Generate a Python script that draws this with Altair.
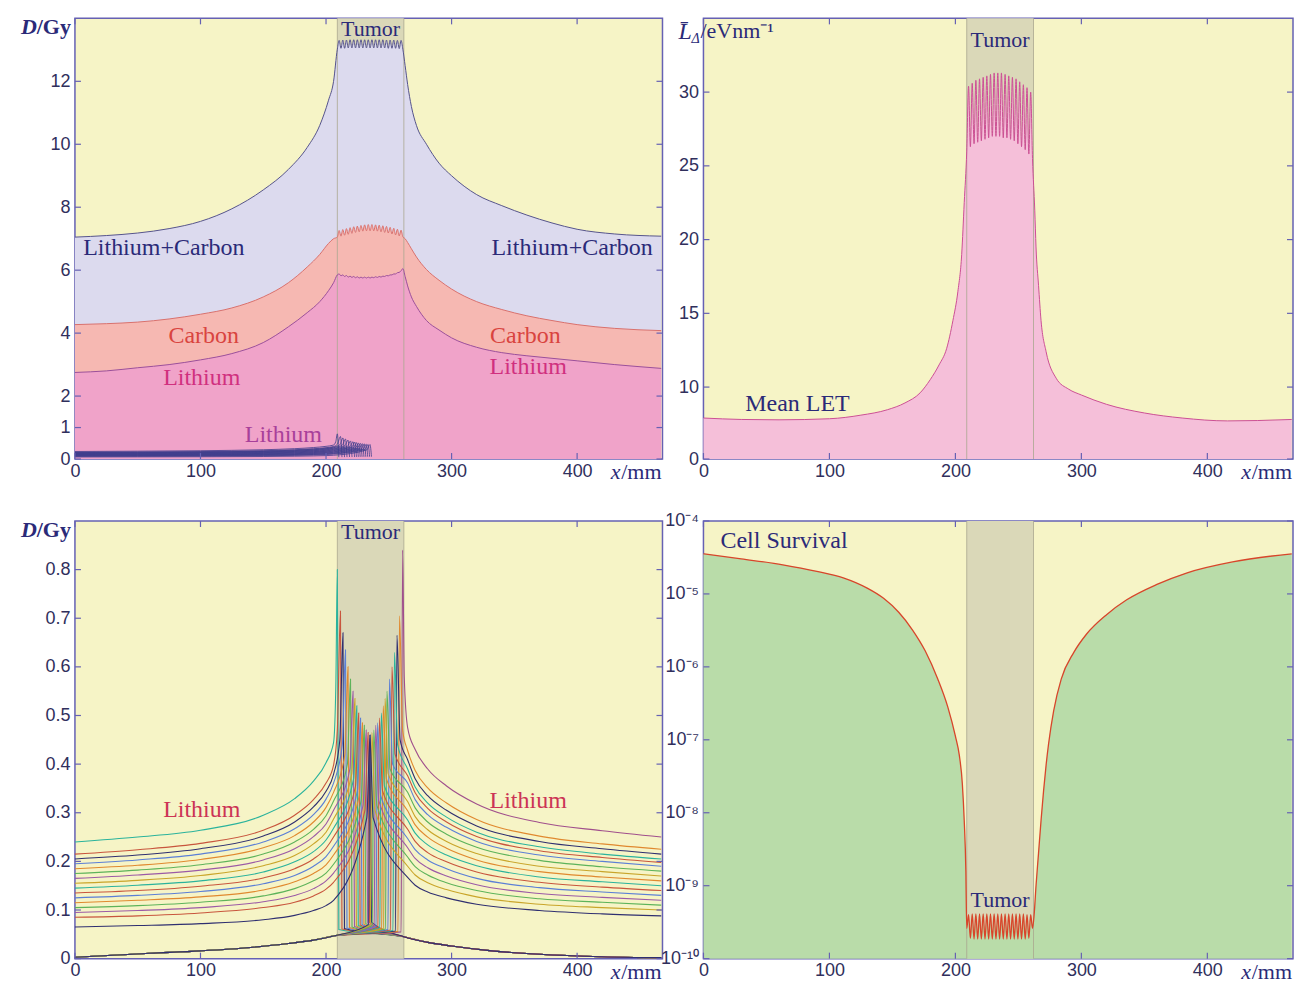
import altair as alt
import pandas as pd

# ------------------------------------------------------------------ data
X_MAX = 468                      # depth axis, mm
X_TICKS = [0, 100, 200, 300, 400]
TUMOR_EDGES = [209, 262]
TUMOR_MID = 235.5

# sample positions across the tumour (spread-out peak ripple)
TUMOR_X = [209.0, 210.45, 211.9, 213.35, 214.8, 216.25, 217.7, 219.15, 220.6, 222.05,
           223.5, 224.95, 226.4, 227.85, 229.3, 230.75, 232.2, 233.65, 235.1, 236.55,
           238.0, 239.45, 240.9, 242.35, 243.8, 245.25, 246.7, 248.15, 249.6, 251.05,
           252.5, 253.95, 255.4, 256.85, 258.3, 259.75, 261.2]

# (a) dose of lithium, carbon and both, Gy
DOSE_LEFT_X = [0, 25, 50, 75, 100, 125, 150, 170, 185, 195, 202, 206]
DOSE_RIGHT_X = [263, 265, 268, 272, 280, 290, 300, 320, 340, 360, 380, 400, 430, 467]
SUM_LEFT = [7.05, 7.10, 7.18, 7.32, 7.55, 7.95, 8.55, 9.20, 9.90, 10.60, 11.40, 12.00]
SUM_TUMOR = [13.02, 13.30, 13.05, 13.31, 13.05, 13.31, 13.06, 13.32, 13.06, 13.32,
             13.06, 13.32, 13.06, 13.32, 13.06, 13.32, 13.06, 13.32, 13.06, 13.32,
             13.06, 13.32, 13.06, 13.32, 13.06, 13.32, 13.06, 13.31, 13.05, 13.31,
             13.05, 13.31, 13.05, 13.30, 13.04, 13.30, 13.02]
SUM_RIGHT = [12.5, 11.9, 11.2, 10.6, 10.0, 9.4, 9.0, 8.4, 8.05, 7.75, 7.5, 7.3, 7.15, 7.08]
CARBON_LEFT = [4.27, 4.30, 4.35, 4.45, 4.60, 4.80, 5.15, 5.60, 6.10, 6.50, 6.85, 7.00]
CARBON_TUMOR = [7.05, 7.26, 7.08, 7.29, 7.11, 7.32, 7.14, 7.35, 7.17, 7.38,
                7.20, 7.40, 7.22, 7.42, 7.24, 7.44, 7.25, 7.45, 7.25, 7.45,
                7.25, 7.44, 7.24, 7.43, 7.22, 7.41, 7.20, 7.39, 7.18, 7.36,
                7.15, 7.33, 7.12, 7.30, 7.09, 7.27, 7.06]
CARBON_RIGHT = [7.0, 6.88, 6.68, 6.42, 6.02, 5.68, 5.4, 5.0, 4.75, 4.55, 4.4, 4.27, 4.15, 4.08]
LITHIUM_LEFT = [2.75, 2.80, 2.90, 3.00, 3.15, 3.35, 3.70, 4.20, 4.65, 5.00, 5.35, 5.60]
LITHIUM_TUMOR = [5.85, 5.88, 5.82, 5.85, 5.80, 5.83, 5.78, 5.81, 5.77, 5.80,
                 5.76, 5.79, 5.75, 5.78, 5.75, 5.78, 5.75, 5.78, 5.75, 5.78,
                 5.76, 5.79, 5.77, 5.80, 5.78, 5.81, 5.80, 5.83, 5.82, 5.85,
                 5.85, 5.88, 5.88, 5.92, 5.93, 5.98, 6.05]
LITHIUM_RIGHT = [5.8, 5.5, 5.15, 4.85, 4.4, 4.1, 3.85, 3.55, 3.38, 3.28, 3.2, 3.12, 3.0, 2.88]

# (b) dose-mean LET, eV/nm
LET_LEFT_X = [0, 30, 60, 100, 125, 146, 160, 172, 180, 187, 193, 198, 202, 205, 207]
LET_LEFT = [5.7, 5.5, 5.45, 5.6, 6.1, 6.85, 7.8, 9.2, 10.5, 11.5, 12.6, 14.5, 16.5, 19.0, 22.5]
LET_TUMOR = [26.0, 30.4, 26.3, 30.6, 26.5, 30.8, 26.6, 30.9, 26.7, 31.0,
             26.8, 31.1, 26.9, 31.2, 27.0, 31.3, 27.0, 31.3, 27.0, 31.3,
             26.9, 31.2, 26.9, 31.1, 26.8, 31.0, 26.7, 30.9, 26.5, 30.7,
             26.3, 30.5, 26.1, 30.3, 25.8, 30.0, 25.5]
LET_RIGHT_X = [263, 264, 266, 268, 272, 280, 290, 300, 320, 350, 380, 416, 440, 467]
LET_RIGHT = [22.0, 19.5, 16.9, 14.5, 12.4, 10.6, 9.7, 8.9, 7.6, 6.4, 5.7, 5.3, 5.35, 5.5]

# (d) cell survival
SURV_LEFT_X = [0, 30, 63, 90, 111, 130, 143, 155, 166, 176, 186, 194, 200, 203, 205.5, 207, 208.3]
SURV_LEFT = [3.55e-5, 3.02e-5, 2.51e-5, 2.04e-5, 1.66e-5, 1.2e-5, 8.7e-6, 5.6e-6, 3.2e-6,
             1.66e-6, 6.8e-7, 2.8e-7, 1.12e-7, 6.3e-8, 2.5e-8, 7.9e-9, 1.6e-9]
SURV_TUMOR = [2.6e-10, 4.0e-10, 1.9e-10, 4.1e-10, 1.85e-10, 4.1e-10, 1.85e-10, 4.1e-10, 1.85e-10, 4.1e-10,
              1.85e-10, 4.1e-10, 1.85e-10, 4.1e-10, 1.85e-10, 4.1e-10, 1.85e-10, 4.1e-10, 1.85e-10, 4.1e-10,
              1.85e-10, 4.1e-10, 1.85e-10, 4.1e-10, 1.85e-10, 4.1e-10, 1.85e-10, 4.1e-10, 1.85e-10, 4.1e-10,
              1.85e-10, 4.1e-10, 1.85e-10, 4.0e-10, 1.9e-10, 4.0e-10, 2.6e-10]
SURV_RIGHT_X = [262.5, 264, 266, 268, 270, 272, 274, 278, 284, 294, 304, 320, 336, 360, 384, 420, 467]
SURV_RIGHT = [4.0e-10, 1.0e-9, 2.8e-9, 7.9e-9, 2.0e-8, 4.5e-8, 8.9e-8, 2.5e-7, 6.8e-7,
              1.58e-6, 2.8e-6, 5.2e-6, 8.3e-6, 1.35e-5, 1.95e-5, 2.75e-5, 3.55e-5]

# (c) single lithium pencil beams, Gy -- entering from the left ...
L_ENTRY_X = [0, 50, 100, 150, 175, 190, 200, 206]
L_ENTRY = [
    [0.240, 0.250, 0.264, 0.295, 0.329, 0.365, 0.403, 0.444],
    [0.215, 0.224, 0.237, 0.264, 0.295, 0.327, 0.361, 0.398],
    [0.205, 0.213, 0.226, 0.252, 0.281, 0.312, 0.344, 0.379],
    [0.195, 0.203, 0.215, 0.240, 0.267, 0.296, 0.328, 0.361],
    [0.185, 0.192, 0.204, 0.228, 0.253, 0.281, 0.311, 0.342],
    [0.175, 0.182, 0.193, 0.215, 0.240, 0.266, 0.294, 0.324],
    [0.165, 0.172, 0.182, 0.203, 0.226, 0.251, 0.277, 0.305],
    [0.155, 0.161, 0.171, 0.191, 0.212, 0.236, 0.260, 0.287],
    [0.145, 0.151, 0.160, 0.178, 0.199, 0.220, 0.244, 0.268],
    [0.135, 0.140, 0.149, 0.166, 0.185, 0.205, 0.227, 0.250],
    [0.125, 0.130, 0.138, 0.154, 0.171, 0.190, 0.210, 0.231],
    [0.115, 0.120, 0.127, 0.141, 0.158, 0.175, 0.193, 0.213],
    [0.105, 0.109, 0.116, 0.129, 0.144, 0.160, 0.176, 0.194],
    [0.095, 0.099, 0.105, 0.117, 0.130, 0.144, 0.160, 0.176],
    [0.085, 0.088, 0.094, 0.105, 0.116, 0.129, 0.143, 0.157],
    [0.065, 0.068, 0.072, 0.080, 0.089, 0.099, 0.109, 0.120],
]
L_PRE_X = [207.8, 209.0, 211.0, 213.0, 215.0, 217.0, 219.0, 220.5,
           222.0, 223.5, 225.0, 226.5, 228.0, 229.5, 231.0, 232.5]
L_PRE = [0.56, 0.47, 0.45, 0.44, 0.42, 0.40, 0.39, 0.38,
         0.37, 0.355, 0.345, 0.335, 0.325, 0.315, 0.305, 0.29]
L_PEAK_X = [209.0, 211.5, 213.5, 215.5, 217.5, 219.5, 221.5, 223.0,
            224.5, 226.0, 227.5, 229.0, 230.5, 232.0, 233.5, 235.0]
L_PEAK = [0.80, 0.715, 0.67, 0.635, 0.60, 0.575, 0.55, 0.535,
          0.52, 0.505, 0.495, 0.485, 0.48, 0.47, 0.465, 0.46]
L_DROP_X = [210.2, 212.7, 214.7, 216.7, 218.7, 220.7, 222.7, 224.2,
            225.7, 227.2, 228.7, 230.2, 231.7, 233.2, 234.7, 236.2]
L_DROP = [0.060, 0.061, 0.062, 0.063, 0.064, 0.065, 0.066, 0.067,
          0.068, 0.069, 0.070, 0.071, 0.072, 0.073, 0.074, 0.075]
L_TAIL_X = [262, 280, 300, 332, 370, 420, 467]
L_TAIL = [0.045, 0.034, 0.026, 0.016, 0.009, 0.004, 0.002]

# ... and entering from the right
R_ENTRY_X = [467, 420, 370, 320, 296, 281, 271, 265]
R_ENTRY = [
    [0.250, 0.263, 0.280, 0.318, 0.355, 0.390, 0.430, 0.475],
    [0.225, 0.236, 0.252, 0.286, 0.320, 0.351, 0.387, 0.428],
    [0.215, 0.226, 0.241, 0.273, 0.305, 0.335, 0.370, 0.409],
    [0.205, 0.215, 0.230, 0.260, 0.291, 0.320, 0.353, 0.390],
    [0.198, 0.208, 0.222, 0.251, 0.281, 0.309, 0.341, 0.376],
    [0.190, 0.200, 0.213, 0.241, 0.270, 0.296, 0.327, 0.361],
    [0.180, 0.189, 0.202, 0.229, 0.256, 0.281, 0.310, 0.342],
    [0.170, 0.179, 0.190, 0.216, 0.241, 0.265, 0.292, 0.323],
    [0.160, 0.168, 0.179, 0.203, 0.227, 0.250, 0.275, 0.304],
    [0.150, 0.158, 0.168, 0.191, 0.213, 0.234, 0.258, 0.285],
    [0.140, 0.147, 0.157, 0.178, 0.199, 0.218, 0.241, 0.266],
    [0.130, 0.137, 0.146, 0.165, 0.185, 0.203, 0.224, 0.247],
    [0.120, 0.126, 0.134, 0.152, 0.170, 0.187, 0.206, 0.228],
    [0.110, 0.116, 0.123, 0.140, 0.156, 0.172, 0.189, 0.209],
    [0.100, 0.105, 0.112, 0.127, 0.142, 0.156, 0.172, 0.190],
    [0.088, 0.092, 0.099, 0.112, 0.125, 0.137, 0.151, 0.167],
]
R_PRE_X = [262.3, 261.0, 259.0, 257.0, 255.0, 253.0, 251.0, 249.5,
           248.0, 246.5, 245.0, 243.5, 242.0, 240.5, 239.0, 237.5]
R_PRE = [0.58, 0.47, 0.45, 0.44, 0.42, 0.40, 0.39, 0.38,
         0.37, 0.355, 0.345, 0.335, 0.325, 0.315, 0.305, 0.29]
R_PEAK_X = [261.0, 258.5, 256.5, 254.5, 252.5, 250.5, 248.5, 247.0,
            245.5, 244.0, 242.5, 241.0, 239.5, 238.0, 236.5, 235.0]
R_PEAK = [0.84, 0.705, 0.665, 0.63, 0.60, 0.575, 0.55, 0.535,
          0.52, 0.505, 0.495, 0.485, 0.48, 0.47, 0.465, 0.46]
R_DROP_X = [259.8, 257.3, 255.3, 253.3, 251.3, 249.3, 247.3, 245.8,
            244.3, 242.8, 241.3, 239.8, 238.3, 236.8, 235.3, 233.8]
R_DROP = [0.055, 0.056, 0.057, 0.058, 0.059, 0.060, 0.061, 0.062,
          0.063, 0.064, 0.065, 0.066, 0.067, 0.068, 0.069, 0.070]
R_TAIL_X = [207, 190, 170, 140, 100, 60, 30, 0]
R_TAIL = [0.047, 0.038, 0.031, 0.023, 0.016, 0.011, 0.007, 0.003]

# annotation anchors (data coordinates)
A_TEXT = ["Lithium+Carbon", "Lithium+Carbon", "Carbon", "Carbon", "Lithium", "Lithium", "Lithium"]
A_X = [70.8, 396.0, 102.6, 358.8, 101.0, 361.0, 166.0]
A_Y = [6.69, 6.69, 3.92, 3.92, 2.58, 2.93, 0.76]
A_TUMOR_Y = 13.66
B_TEXT, B_X, B_Y = ["Mean LET"], [74.6], [7.6]
B_TUMOR_Y = 33.5
C_TEXT, C_X, C_Y = ["Lithium", "Lithium"], [101.0, 361.0], [0.305, 0.325]
C_TUMOR_Y = 0.877
D_TEXT, D_X, D_Y = ["Cell Survival"], [13.5], [5.3e-5]
D_TUMOR_Y = 6.3e-10

A_YTICKS = [0, 1, 2, 4, 6, 8, 10, 12]
B_YTICKS = [0, 10, 15, 20, 25, 30]
C_YTICKS = [0, 0.1, 0.2, 0.3, 0.4, 0.5, 0.6, 0.7, 0.8]
D_YTICKS = [1e-10, 1e-9, 1e-8, 1e-7, 1e-6, 1e-5, 1e-4]

# ------------------------------------------------------------------ style
SERIF = "Liberation Serif"
SANS = "Liberation Sans"
FRAME = "#6661b3"
INK = "#2b2a78"
LABEL_INK = "#302f5c"
BG = "#f6f4c6"
BAND = "#dad8b8"
W_L, W_R, H_T, H_B = 588, 590, 441, 438
TICK = 6

L_COLORS = ["#2bb39c", "#c8553d", "#2f2f70", "#5b7fd6", "#e0892f", "#5db35a", "#9b5aa6", "#c9a52a",
            "#2bb39c", "#c8553d", "#5b7fd6", "#e0892f", "#5db35a", "#9b5aa6", "#c8553d", "#2f2f70"]
R_COLORS = ["#a04f8c", "#e0892f", "#2f2f70", "#2bb39c", "#c8553d", "#5b7fd6", "#5db35a", "#c9a52a",
            "#e0892f", "#2bb39c", "#c8553d", "#5b7fd6", "#9b5aa6", "#5db35a", "#c9a52a", "#2f2f70"]


def xaxis():
    return alt.Axis(values=X_TICKS, title=None, ticks=False, domain=False, grid=False,
                    labelFont=SANS, labelFontSize=18, labelColor=LABEL_INK,
                    labelPadding=3, labelFlush=False, labelOverlap=False)


def yaxis(values, expr=None):
    kw = dict(values=values, title=None, ticks=False, domain=False, grid=False,
              labelFont=SANS, labelFontSize=18, labelColor=LABEL_INK,
              labelPadding=5, labelFlush=False, labelOverlap=False)
    if expr:
        kw["labelExpr"] = expr
    return alt.Axis(**kw)


class Frame:
    """Shared scales and axes of one panel, handed to every layer."""

    def __init__(self, ydomain, yticks, w, h, ytype="linear", yrange=None, expr=None):
        self.xs = alt.Scale(domain=[0, X_MAX], nice=False, zero=False)
        ykw = dict(type=ytype, domain=ydomain, nice=False)
        if ytype == "linear":
            ykw["zero"] = False
        if yrange is not None:
            ykw["range"] = yrange
        self.ys = alt.Scale(**ykw)
        self.xa = xaxis()
        self.ya = yaxis(yticks, expr)
        self.yticks = yticks
        self.w, self.h = w, h

    def X(self, f):
        return alt.X(f, scale=self.xs, axis=self.xa)

    def Y(self, f):
        return alt.Y(f, scale=self.ys, axis=self.ya)


def band(fr, lo, hi):
    df = pd.DataFrame({"x0": [TUMOR_EDGES[0]], "x1": [TUMOR_EDGES[1]], "y0": [lo], "y1": [hi]})
    return alt.Chart(df).mark_rect(color=BAND).encode(
        x=fr.X("x0:Q"), x2="x1", y=fr.Y("y0:Q"), y2="y1")


def edges(fr):
    df = pd.DataFrame({"x": TUMOR_EDGES})
    return alt.Chart(df).mark_rule(color="#a9a78f", strokeWidth=0.8).encode(x=fr.X("x:Q"))


def area(fr, df, field, fill, base):
    return alt.Chart(df).mark_area(color=fill, interpolate="monotone").encode(
        x=fr.X("x:Q"), y=fr.Y(f"{field}:Q"), y2=alt.datum(base))


def line(fr, df, field, stroke, width=1.0):
    return alt.Chart(df).mark_line(color=stroke, strokeWidth=width, interpolate="monotone").encode(
        x=fr.X("x:Q"), y=fr.Y(f"{field}:Q"))


def frame_ticks(fr):
    xdf = pd.DataFrame({"v": X_TICKS})
    ydf = pd.DataFrame({"v": fr.yticks})
    st = dict(color=FRAME, strokeWidth=1.2)
    w, h = fr.w, fr.h
    return [
        alt.Chart(xdf).mark_rule(**st).encode(x=fr.X("v:Q"), y=alt.value(0), y2=alt.value(TICK)),
        alt.Chart(xdf).mark_rule(**st).encode(x=fr.X("v:Q"), y=alt.value(h), y2=alt.value(h - TICK)),
        alt.Chart(ydf).mark_rule(**st).encode(y=fr.Y("v:Q"), x=alt.value(0), x2=alt.value(TICK)),
        alt.Chart(ydf).mark_rule(**st).encode(y=fr.Y("v:Q"), x=alt.value(w), x2=alt.value(w - TICK)),
    ]


def notes(fr, texts, xs_, ys_, colors, size=24, align="center"):
    df = pd.DataFrame({"x": xs_, "y": ys_, "t": texts, "c": colors})
    return alt.Chart(df).mark_text(font=SERIF, fontSize=size, align=align, baseline="middle").encode(
        x=fr.X("x:Q"), y=fr.Y("y:Q"), text="t:N", color=alt.Color("c:N", scale=None))


def px_text(text, x, y, size=22, italic=False, bold=False, align="right", color=INK):
    return alt.Chart(pd.DataFrame({"t": [text]})).mark_text(
        font=SERIF, fontSize=size, fontStyle="italic" if italic else "normal",
        fontWeight="bold" if bold else "normal", align=align, baseline="middle", color=color
    ).encode(x=alt.value(x), y=alt.value(y), text="t:N")


def dose_title():
    return [px_text("/Gy", -4, 9, bold=True), px_text("D", -38, 9, italic=True, bold=True)]


def mm_title(fr):
    return [px_text("/mm", fr.w - 1, fr.h + 13), px_text("x", fr.w - 42, fr.h + 13, italic=True)]


# ------------------------------------------------------------------ beam table
rows = []
for i in range(16):
    pts = list(zip(L_ENTRY_X, L_ENTRY[i])) + [(L_PRE_X[i], L_PRE[i]), (L_PEAK_X[i], L_PEAK[i]),
                                             (L_DROP_X[i], L_DROP[i])]
    for x, y in pts:
        rows.append({"beam": f"L{i}", "x": x, "y": y, "part": "head"})
    for x, y in zip(L_TAIL_X, L_TAIL):
        rows.append({"beam": f"L{i}", "x": x, "y": y, "part": "tail"})
for i in range(16):
    pts = list(zip(R_ENTRY_X, R_ENTRY[i])) + [(R_PRE_X[i], R_PRE[i]), (R_PEAK_X[i], R_PEAK[i]),
                                             (R_DROP_X[i], R_DROP[i])]
    for x, y in pts:
        rows.append({"beam": f"R{i}", "x": x, "y": y, "part": "head"})
    for x, y in zip(R_TAIL_X, R_TAIL):
        rows.append({"beam": f"R{i}", "x": x, "y": y, "part": "tail"})
beams = pd.DataFrame(rows)
beam_ids = [f"L{i}" for i in range(16)] + [f"R{i}" for i in range(16)]
beam_cols = L_COLORS + R_COLORS

# ------------------------------------------------------------------ (a) dose
fa = Frame([0, 14], A_YTICKS, W_L, H_T)
dose = pd.DataFrame({
    "x": DOSE_LEFT_X + TUMOR_X + DOSE_RIGHT_X,
    "sum": SUM_LEFT + SUM_TUMOR + SUM_RIGHT,
    "carbon": CARBON_LEFT + CARBON_TUMOR + CARBON_RIGHT,
    "lithium": LITHIUM_LEFT + LITHIUM_TUMOR + LITHIUM_RIGHT,
})
left_heads = beams[(beams.beam.str.startswith("L")) & (beams.part == "head")]
panel_a = alt.layer(
    band(fa, 0, 14),
    area(fa, dose, "sum", "#dcdaee", 0),
    area(fa, dose, "carbon", "#f6b8b2", 0),
    area(fa, dose, "lithium", "#f0a3c9", 0),
    edges(fa),
    line(fa, dose, "sum", "#55538c"),
    line(fa, dose, "carbon", "#d9706c"),
    line(fa, dose, "lithium", "#9b4f9b"),
    alt.Chart(left_heads).mark_line(color="#3c3c8c", strokeWidth=0.8, interpolate="monotone").encode(
        x=fa.X("x:Q"), y=fa.Y("y:Q"), detail="beam:N"),
    *frame_ticks(fa),
    notes(fa, A_TEXT, A_X, A_Y, [INK, INK, "#d9443f", "#d9443f", "#d0307f", "#d0307f", "#a8409a"]),
    notes(fa, ["Tumor"], [TUMOR_MID], [A_TUMOR_Y], [INK], size=22),
    *dose_title(),
    *mm_title(fa),
).properties(width=W_L, height=H_T)

# ------------------------------------------------------------------ (b) LET
fb = Frame([0, 10, 35], B_YTICKS, W_R, H_T, yrange=[H_T, 369, 0])
let = pd.DataFrame({"x": LET_LEFT_X + TUMOR_X + LET_RIGHT_X, "let": LET_LEFT + LET_TUMOR + LET_RIGHT})
panel_b = alt.layer(
    band(fb, 0, 35),
    area(fb, let, "let", "#f5bfd9", 0),
    edges(fb),
    line(fb, let, "let", "#cc4f95"),
    *frame_ticks(fb),
    notes(fb, B_TEXT, B_X, B_Y, [INK]),
    notes(fb, ["Tumor"], [TUMOR_MID], [B_TUMOR_Y], [INK], size=22),
    px_text("L\u0304", -25, 14, size=24, italic=True, align="left"),
    px_text("\u0394", -12, 21, size=14, italic=True, align="left"),
    px_text("/eVnm\u207b\u00b9", -3, 13, size=22, align="left"),
    *mm_title(fb),
).properties(width=W_R, height=H_T)

# ------------------------------------------------------------------ (c) single beams
fc = Frame([0, 0.9], C_YTICKS, W_L, H_B,
           expr="datum.value == 0 ? '0' : format(datum.value, '.1f')")
panel_c = alt.layer(
    band(fc, 0, 0.9),
    edges(fc),
    alt.Chart(beams).mark_line(strokeWidth=1.1, interpolate="monotone").encode(
        x=fc.X("x:Q"), y=fc.Y("y:Q"),
        color=alt.Color("beam:N", scale=alt.Scale(domain=beam_ids, range=beam_cols), legend=None)),
    *frame_ticks(fc),
    notes(fc, C_TEXT, C_X, C_Y, ["#cc3355", "#cc3355"]),
    notes(fc, ["Tumor"], [TUMOR_MID], [C_TUMOR_Y], [INK], size=22),
    *dose_title(),
    *mm_title(fc),
).properties(width=W_L, height=H_B)

# ------------------------------------------------------------------ (d) survival
log_expr = ("datum.value > 5e-5 ? '10\u207b\u2074' : datum.value > 5e-6 ? '10\u207b\u2075' : "
            "datum.value > 5e-7 ? '10\u207b\u2076' : datum.value > 5e-8 ? '10\u207b\u2077' : "
            "datum.value > 5e-9 ? '10\u207b\u2078' : datum.value > 5e-10 ? '10\u207b\u2079' : "
            "'10\u207b\u00b9\u2070'")
fd = Frame([1e-10, 1e-4], D_YTICKS, W_R, H_B, ytype="log", expr=log_expr)
surv = pd.DataFrame({"x": SURV_LEFT_X + TUMOR_X + SURV_RIGHT_X, "s": SURV_LEFT + SURV_TUMOR + SURV_RIGHT})
panel_d = alt.layer(
    band(fd, 1e-10, 1e-4),
    area(fd, surv, "s", "#b9dca9", 1e-10),
    edges(fd),
    line(fd, surv, "s", "#d8452a", 1.3),
    *frame_ticks(fd),
    notes(fd, D_TEXT, D_X, D_Y, [INK], align="left"),
    notes(fd, ["Tumor"], [TUMOR_MID], [D_TUMOR_Y], [INK], size=22),
    *mm_title(fd),
).properties(width=W_R, height=H_B)

chart = alt.concat(
    panel_a, panel_b, panel_c, panel_d,
    columns=2, spacing={"row": 62, "column": 41}, bounds="flush",
).properties(
    padding={"left": 20, "top": 15, "right": 0, "bottom": 0},
    background="white",
).configure_view(fill=BG, stroke=FRAME, strokeWidth=1.5)

chart.save("out.html", embed_options={"renderer": "svg", "actions": False})
